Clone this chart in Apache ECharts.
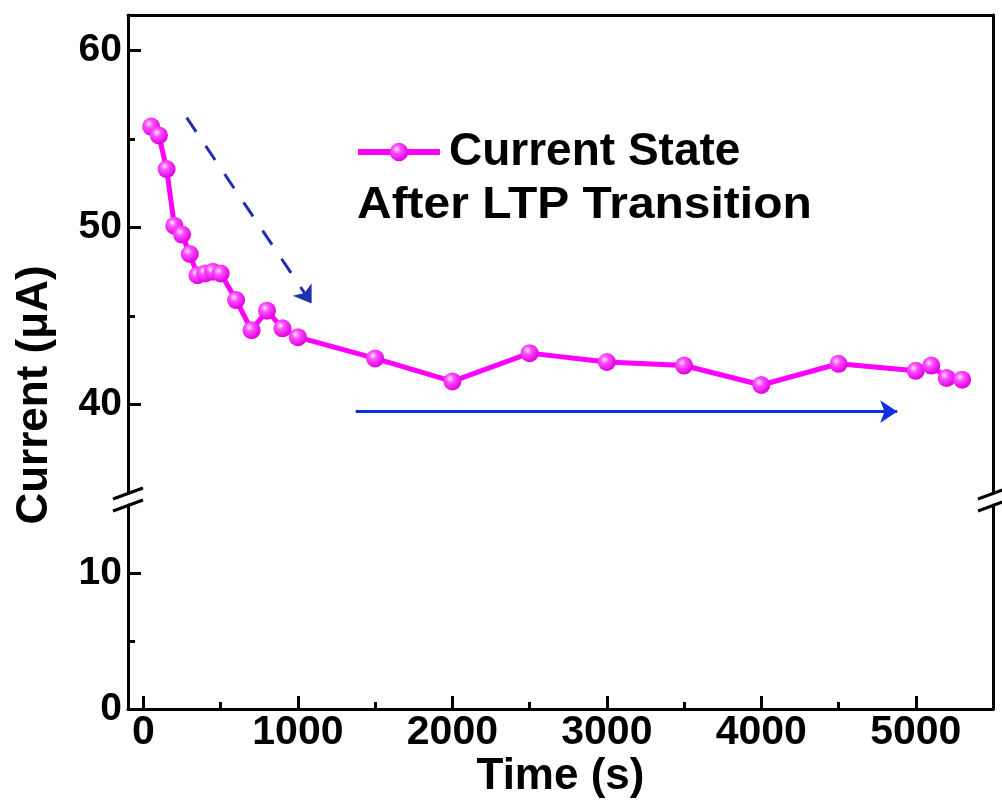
<!DOCTYPE html>
<html>
<head>
<meta charset="utf-8">
<script src="https://cdn.jsdelivr.net/npm/echarts@6/dist/echarts.min.js"></script>
<style>
  html, body { margin: 0; padding: 0; background: #fff; }
  #chart { width: 1002px; height: 806px; }
</style>
</head>
<body>
<div id="chart"></div>
<script>
// time (s) and current (uA)
const times = [50, 100, 150, 200, 250, 300, 350, 400, 450, 500, 600, 700, 800, 900, 1000,
  1500, 2000, 2500, 3000, 3500, 4000, 4500, 5000, 5100, 5200, 5300]
const current = [55.7, 55.2, 53.3, 50.1, 49.6, 48.5, 47.3, 47.4, 47.5, 47.4, 45.9, 44.2, 45.3, 44.3, 43.8,
  42.6, 41.3, 42.9, 42.4, 42.2, 41.1, 42.3, 41.9, 42.2, 41.5, 41.4]

// tick labels
const xMajorTicks = [0, 1000, 2000, 3000, 4000, 5000]
const xMinorTicks = [500, 1500, 2500, 3500, 4500]
const yTopLabels = [40, 50, 60]
const yTopMinor = [45, 55]
const yBottomLabels = [0, 10]
const yBottomTicks = [10]
const yBottomMinor = [5]

// annotation arrows (data coords)
const trendArrow = [[280, 56.2], [1089, 45.7]]
const stableArrow = [[1374, 39.6], [4880, 39.6]]

const FONT = '"Liberation Sans", Arial, sans-serif'
const LINE = { lineStyle: { color: '#000', width: 3 }, onZero: false }

const chart = echarts.init(document.getElementById('chart'))

function frameAxis(extra) {
  return Object.assign({
    type: 'value',
    axisLine: LINE,
    axisTick: { show: false },
    axisLabel: { show: false },
    splitLine: { show: false }
  }, extra)
}

function tickAxis(extra, ticks, len) {
  return Object.assign({
    type: 'value',
    axisLine: { show: false, onZero: false },
    axisTick: { inside: true, length: len, lineStyle: { color: '#000', width: 3 }, customValues: ticks },
    axisLabel: { show: false },
    splitLine: { show: false }
  }, extra)
}

chart.setOption({
  animation: false,
  grid: [
    { left: 128, right: 9, top: 15, height: 478 },
    { left: 128, right: 9, top: 505, height: 204 }
  ],
  legend: {
    left: 350,
    top: 124,
    itemWidth: 82,
    itemHeight: 23,
    lineStyle: { width: 6 },
    textStyle: { fontFamily: FONT, fontWeight: 'bold', fontSize: 46, color: '#000', padding: [0, 0, 0, 4] },
    data: ['Current State']
  },
  xAxis: [
    frameAxis({ gridIndex: 0, position: 'top', min: -100, max: 5500 }),
    {
      type: 'value',
      gridIndex: 1,
      position: 'bottom',
      min: -100,
      max: 5500,
      axisLine: LINE,
      axisTick: { inside: true, length: 13, lineStyle: { color: '#000', width: 3 }, customValues: xMajorTicks },
      axisLabel: {
        customValues: xMajorTicks,
        formatter: v => String(v),
        fontFamily: FONT, fontWeight: 'bold', fontSize: 41, color: '#000', margin: 3
      },
      splitLine: { show: false },
      name: 'Time (s)',
      nameLocation: 'middle',
      nameGap: 46,
      nameTextStyle: { fontFamily: FONT, fontWeight: 'bold', fontSize: 44, color: '#000' }
    },
    tickAxis({ gridIndex: 1, position: 'bottom', min: -100, max: 5500 }, xMinorTicks, 7)
  ],
  yAxis: [
    {
      type: 'value',
      gridIndex: 0,
      position: 'left',
      min: 35,
      max: 62,
      axisLine: LINE,
      axisTick: { inside: true, length: 13, lineStyle: { color: '#000', width: 3 }, customValues: yTopLabels },
      axisLabel: {
        customValues: yTopLabels,
        fontFamily: FONT, fontWeight: 'bold', fontSize: 39, color: '#000', margin: 6
      },
      splitLine: { show: false }
    },
    tickAxis({ gridIndex: 0, position: 'left', min: 35, max: 62 }, yTopMinor, 7),
    frameAxis({ gridIndex: 0, position: 'right', min: 35, max: 62 }),
    {
      type: 'value',
      gridIndex: 1,
      position: 'left',
      min: 0,
      max: 15,
      axisLine: LINE,
      axisTick: { inside: true, length: 13, lineStyle: { color: '#000', width: 3 }, customValues: yBottomTicks },
      axisLabel: {
        customValues: yBottomLabels,
        fontFamily: FONT, fontWeight: 'bold', fontSize: 39, color: '#000', margin: 6
      },
      splitLine: { show: false }
    },
    tickAxis({ gridIndex: 1, position: 'left', min: 0, max: 15 }, yBottomMinor, 7),
    frameAxis({ gridIndex: 1, position: 'right', min: 0, max: 15 })
  ],
  graphic: [
    {
      type: 'text',
      x: 35,
      y: 395,
      rotation: Math.PI / 2,
      style: {
        text: 'Current (μA)',
        font: 'bold 44px ' + FONT,
        fill: '#000',
        align: 'center',
        verticalAlign: 'middle'
      }
    },
    {
      type: 'text',
      x: 357,
      y: 206,
      scaleX: 1.09,
      style: {
        text: 'After LTP Transition',
        font: 'bold 44px ' + FONT,
        fill: '#000',
        align: 'left',
        verticalAlign: 'middle'
      }
    },
    // axis break marks
    { type: 'line', shape: { x1: 113, y1: 499, x2: 143, y2: 488 }, style: { stroke: '#000', lineWidth: 3 } },
    { type: 'line', shape: { x1: 113, y1: 511, x2: 143, y2: 500 }, style: { stroke: '#000', lineWidth: 3 } },
    { type: 'line', shape: { x1: 978, y1: 499, x2: 1008, y2: 488 }, style: { stroke: '#000', lineWidth: 3 } },
    { type: 'line', shape: { x1: 978, y1: 511, x2: 1008, y2: 500 }, style: { stroke: '#000', lineWidth: 3 } }
  ],
  series: [
    {
      name: 'Current State',
      type: 'line',
      xAxisIndex: 0,
      yAxisIndex: 0,
      data: times.map((t, i) => [t, current[i]]),
      symbol: 'circle',
      symbolSize: 18,
      lineStyle: { color: '#ff00ff', width: 5 },
      itemStyle: {
        color: new echarts.graphic.RadialGradient(0.38, 0.35, 0.65, [
          { offset: 0, color: '#ffe6ff' },
          { offset: 0.35, color: '#ff4dff' },
          { offset: 1, color: '#e000e0' }
        ])
      },
      markLine: {
        silent: true,
        symbol: ['none', 'arrow'],
        symbolSize: 17,
        label: { show: false },
        data: [
          [
            { coord: trendArrow[0], lineStyle: { color: '#1f2fb0', width: 3, type: [17, 17] } },
            { coord: trendArrow[1] }
          ],
          [
            { coord: stableArrow[0], lineStyle: { color: '#1030e0', width: 3, type: 'solid' } },
            { coord: stableArrow[1] }
          ]
        ]
      }
    }
  ]
})
</script>
</body>
</html>
